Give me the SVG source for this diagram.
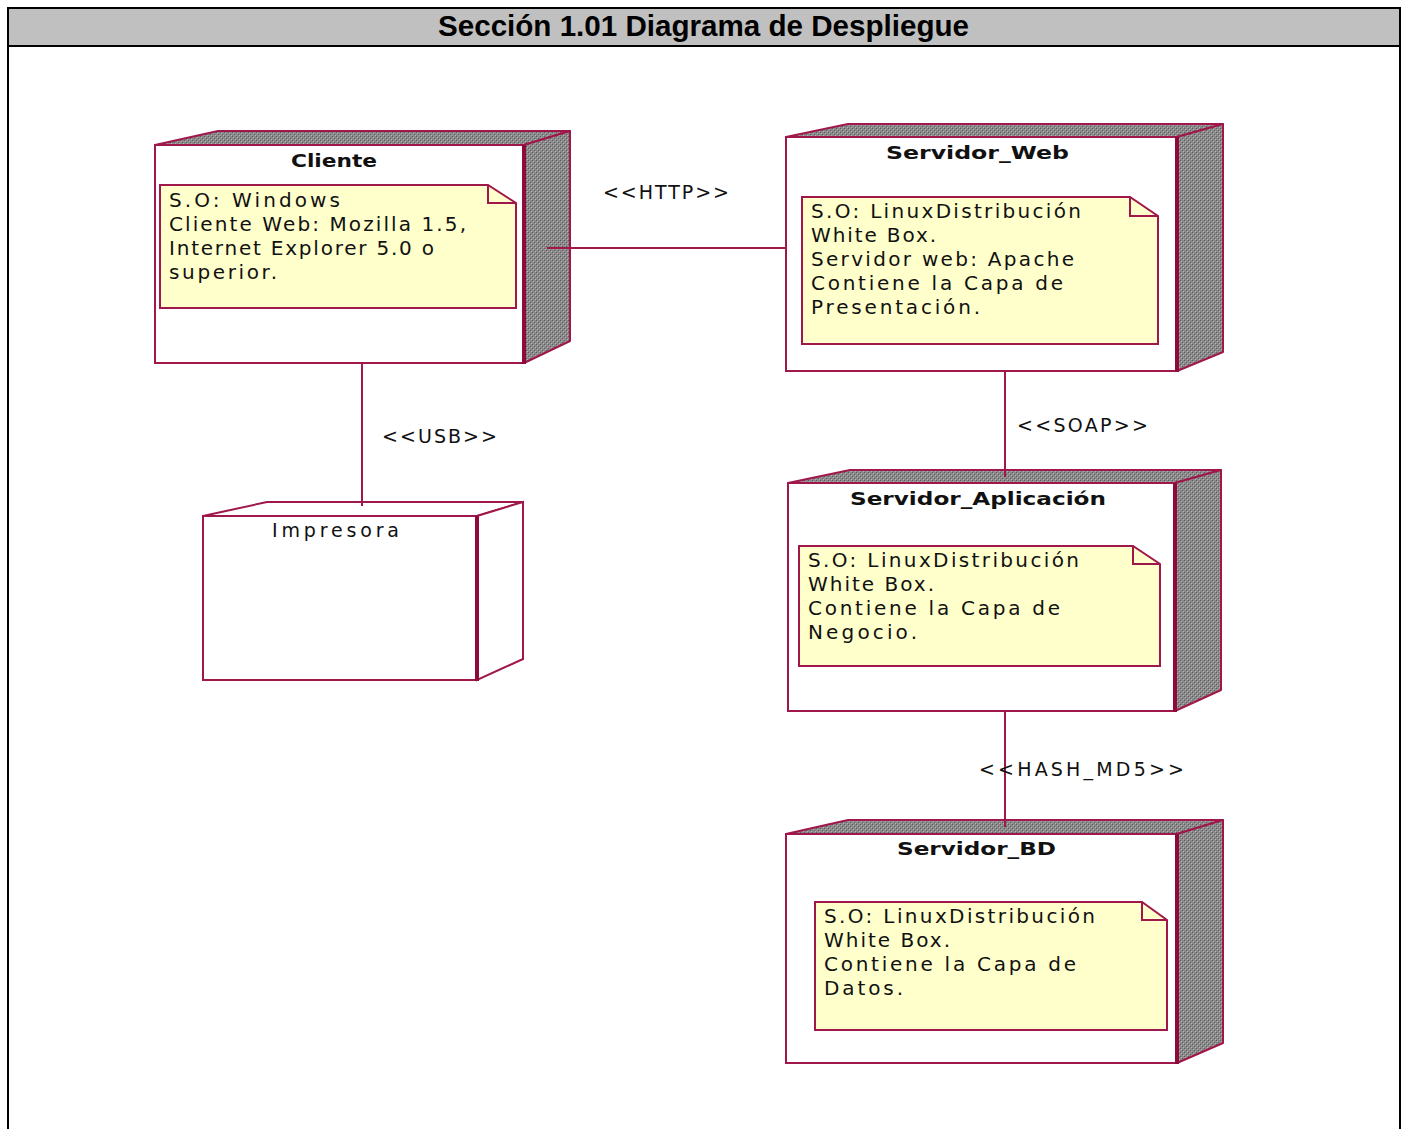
<svg xmlns="http://www.w3.org/2000/svg" width="1408" height="1129" viewBox="0 0 1408 1129">
  <defs>
    <pattern id="dither" width="4" height="4" patternUnits="userSpaceOnUse">
      <rect width="4" height="4" fill="#8a8a8a"/>
      <rect x="0" y="0" width="1" height="1" fill="#5a5a5a"/>
      <rect x="2" y="2" width="1" height="1" fill="#5a5a5a"/>
      <rect x="1" y="1" width="1" height="1" fill="#b4b4b4"/>
      <rect x="3" y="3" width="1" height="1" fill="#b4b4b4"/>
    </pattern>
  </defs>
  <style>
    .frame { fill: none; stroke: #000; stroke-width: 2; }
    .hdr { fill: #c0c0c0; stroke: #000; stroke-width: 2; }
    .hdrtxt { font-family: "Liberation Sans", Arial, sans-serif; font-weight: bold; font-size: 30px; fill: #000; }
    .face { fill: #fff; stroke: #a0174b; stroke-width: 2; }
    .shade { fill: url(#dither); stroke: #a0174b; stroke-width: 2; stroke-linejoin: round; }
    .plain { fill: #fff; stroke: #a0174b; stroke-width: 2; }
    .edge { stroke: #8e0a3a; stroke-width: 4; }
    .note { fill: #ffffcc; stroke: #a0174b; stroke-width: 2; }
    .fold { fill: none; stroke: #a0174b; stroke-width: 2; }
    .title { font-family: "DejaVu Sans", Verdana, sans-serif; font-weight: bold; font-size: 18px; fill: #111; }
    .name { font-family: "DejaVu Sans", Verdana, sans-serif; font-size: 19px; fill: #111; }
    .txt { font-family: "DejaVu Sans", Verdana, sans-serif; font-size: 20px; fill: #111; }
    .conn { stroke: #a0174b; stroke-width: 2; fill: none; }
    .lbl { font-family: "DejaVu Sans", Verdana, sans-serif; font-size: 19px; fill: #111; }
  </style>

  <!-- page frame and section heading -->
  <g id="heading">
    <line class="frame" x1="8" y1="8" x2="8" y2="1129"/>
    <line class="frame" x1="1400" y1="8" x2="1400" y2="1129"/>
    <rect class="hdr" x="8" y="8" width="1392" height="38"/>
    <text class="hdrtxt" x="438" y="36" textLength="531" lengthAdjust="spacingAndGlyphs">Sección 1.01  Diagrama de Despliegue</text>
  </g>

  <!-- Cliente -->
  <g id="cliente">
    <polygon class="shade" points="155,145 218,131 570,131 524,145"/>
    <polygon class="shade" points="524,145 570,131 570,341 524,363"/>
    <rect class="face" x="155" y="145" width="369" height="218"/>
    <line class="edge" x1="524" y1="145" x2="524" y2="364"/>
    <text class="title" x="291" y="167" textLength="86" lengthAdjust="spacingAndGlyphs">Cliente</text>
    <path class="note" d="M160,185 H488 L516,203 V308 H160 Z"/>
    <path class="fold" d="M488,185 V203 H516"/>
    <text class="txt" x="169" y="207" textLength="171" lengthAdjust="spacing">S.O: Windows</text>
    <text class="txt" x="169" y="231" textLength="297" lengthAdjust="spacing">Cliente Web: Mozilla 1.5,</text>
    <text class="txt" x="169" y="255" textLength="265" lengthAdjust="spacing">Internet Explorer 5.0 o</text>
    <text class="txt" x="169" y="279" textLength="108" lengthAdjust="spacing">superior.</text>
  </g>

  <!-- Servidor_Web -->
  <g id="servidor-web">
    <polygon class="shade" points="786,137 848,124 1223,124 1177,137"/>
    <polygon class="shade" points="1177,137 1223,124 1223,352 1177,371"/>
    <rect class="face" x="786" y="137" width="391" height="234"/>
    <line class="edge" x1="1177" y1="137" x2="1177" y2="372"/>
    <text class="title" x="886" y="159" textLength="183" lengthAdjust="spacingAndGlyphs">Servidor_Web</text>
    <path class="note" d="M802,197 H1130 L1158,216 V344 H802 Z"/>
    <path class="fold" d="M1130,197 V216 H1158"/>
    <text class="txt" x="811" y="218" textLength="270" lengthAdjust="spacing">S.O: LinuxDistribución</text>
    <text class="txt" x="811" y="242" textLength="125" lengthAdjust="spacing">White Box.</text>
    <text class="txt" x="811" y="266" textLength="263" lengthAdjust="spacing">Servidor web: Apache</text>
    <text class="txt" x="811" y="290" textLength="252" lengthAdjust="spacing">Contiene la Capa de</text>
    <text class="txt" x="811" y="314" textLength="169" lengthAdjust="spacing">Presentación.</text>
  </g>

  <!-- Impresora -->
  <g id="impresora">
    <polygon class="plain" points="203,516 267,502 523,502 477,516"/>
    <polygon class="plain" points="477,516 523,502 523,659 477,680"/>
    <rect class="face" x="203" y="516" width="274" height="164"/>
    <line class="edge" x1="477" y1="516" x2="477" y2="681"/>
    <text class="name" x="272" y="537" textLength="127" lengthAdjust="spacing">Impresora</text>
  </g>

  <!-- Servidor_Aplicación -->
  <g id="servidor-aplicacion">
    <polygon class="shade" points="788,483 850,470 1221,470 1175,483"/>
    <polygon class="shade" points="1175,483 1221,470 1221,690 1175,711"/>
    <rect class="face" x="788" y="483" width="387" height="228"/>
    <line class="edge" x1="1175" y1="483" x2="1175" y2="712"/>
    <text class="title" x="850" y="505" textLength="256" lengthAdjust="spacingAndGlyphs">Servidor_Aplicación</text>
    <path class="note" d="M799,546 H1133 L1160,564 V666 H799 Z"/>
    <path class="fold" d="M1133,546 V564 H1160"/>
    <text class="txt" x="808" y="567" textLength="271" lengthAdjust="spacing">S.O: LinuxDistribución</text>
    <text class="txt" x="808" y="591" textLength="126" lengthAdjust="spacing">White Box.</text>
    <text class="txt" x="808" y="615" textLength="252" lengthAdjust="spacing">Contiene la Capa de</text>
    <text class="txt" x="808" y="639" textLength="109" lengthAdjust="spacing">Negocio.</text>
  </g>

  <!-- Servidor_BD -->
  <g id="servidor-bd">
    <polygon class="shade" points="786,834 848,820 1223,820 1177,834"/>
    <polygon class="shade" points="1177,834 1223,820 1223,1043 1177,1063"/>
    <rect class="face" x="786" y="834" width="391" height="229"/>
    <line class="edge" x1="1177" y1="834" x2="1177" y2="1064"/>
    <text class="title" x="897" y="855" textLength="159" lengthAdjust="spacingAndGlyphs">Servidor_BD</text>
    <path class="note" d="M815,902 H1142 L1167,920 V1030 H815 Z"/>
    <path class="fold" d="M1142,902 V920 H1167"/>
    <text class="txt" x="824" y="923" textLength="271" lengthAdjust="spacing">S.O: LinuxDistribución</text>
    <text class="txt" x="824" y="947" textLength="126" lengthAdjust="spacing">White Box.</text>
    <text class="txt" x="824" y="971" textLength="252" lengthAdjust="spacing">Contiene la Capa de</text>
    <text class="txt" x="824" y="995" textLength="79" lengthAdjust="spacing">Datos.</text>
  </g>

  <!-- connectors (drawn over the node bodies where they meet) -->
  <g id="connectors">
    <line class="conn" x1="547" y1="248" x2="786" y2="248"/>
    <text class="lbl" x="603" y="199" textLength="126" lengthAdjust="spacing">&lt;&lt;HTTP&gt;&gt;</text>
    <line class="conn" x1="362" y1="363" x2="362" y2="506"/>
    <text class="lbl" x="382" y="443" textLength="115" lengthAdjust="spacing">&lt;&lt;USB&gt;&gt;</text>
    <line class="conn" x1="1005" y1="371" x2="1005" y2="477"/>
    <text class="lbl" x="1017" y="432" textLength="131" lengthAdjust="spacing">&lt;&lt;SOAP&gt;&gt;</text>
    <line class="conn" x1="1005" y1="711" x2="1005" y2="827"/>
    <text class="lbl" x="979" y="776" textLength="205" lengthAdjust="spacing">&lt;&lt;HASH_MD5&gt;&gt;</text>
  </g>
</svg>
